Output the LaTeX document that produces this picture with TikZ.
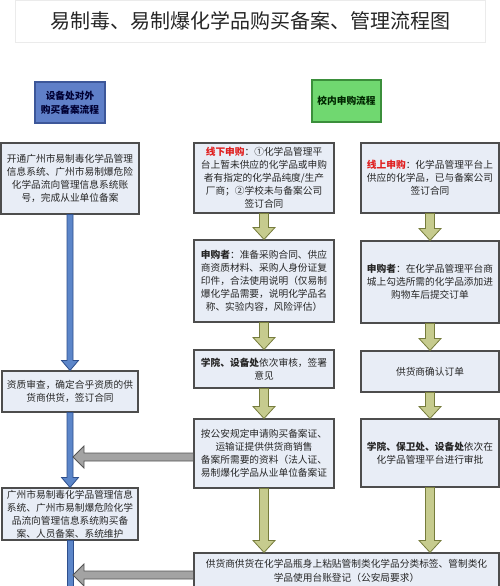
\documentclass[tikz,border=0pt]{standalone}
\usepackage{fontspec}
\newfontfamily\cjk{Noto Sans CJK SC}
\usetikzlibrary{calc}
\definecolor{boxfill}{HTML}{E8EDF6}
\definecolor{boxline}{HTML}{4D4D4D}
\definecolor{olivefill}{HTML}{C6CB8E}
\definecolor{oliveline}{HTML}{767C3C}
\definecolor{grayfill}{HTML}{A3A3A3}
\definecolor{grayline}{HTML}{555555}
\definecolor{bluefill}{HTML}{5C86C9}
\definecolor{blueline}{HTML}{2E4F8C}
\definecolor{hdrblue}{HTML}{5F7FC8}
\definecolor{hdrblueline}{HTML}{3D5799}
\definecolor{hdrgreen}{HTML}{70D870}
\definecolor{hdrgreenline}{HTML}{3B8F3B}
\definecolor{redtxt}{HTML}{E02020}
\tikzset{
  box/.style={draw=boxline, line width=1.1pt, fill=boxfill, align=center, inner sep=1pt,
    font=\cjk\fontsize{9.7}{13}\selectfont, text=black!85},
  hdr/.style={line width=1.1pt, align=center, inner sep=1pt,
    font=\cjk\bfseries\fontsize{9.7}{14}\selectfont},
  titlebox/.style={draw=black!8, fill=white, font=\cjk\fontsize{20}{24}\selectfont, text=black!85},
  olivearr/.style={draw=oliveline, fill=olivefill, line width=0.8pt},
  grayarr/.style={draw=grayline, fill=grayfill, line width=0.8pt},
  bluearr/.style={draw=blueline, fill=bluefill, line width=0.8pt},
}
\newcommand{\red}[1]{{\bfseries\color{redtxt}#1}}
\newcommand{\oarrow}[2]{%
  \path let \p1=(#1.south), \p2=(#2.north) in
    [olivearr] (\x1-4.5pt,\y1) -- (\x1-4.5pt,\y2+12pt) -- (\x1-11pt,\y2+12pt) -- (\x1,\y2)
    -- (\x1+11pt,\y2+12pt) -- (\x1+4.5pt,\y2+12pt) -- (\x1+4.5pt,\y1) -- cycle;}
\newcommand{\barrow}[2]{%
  \path let \p1=(#1.south), \p2=(#2.north) in
    [bluearr] (\x1-3pt,\y1) -- (\x1-3pt,\y2+10pt) -- (\x1-8.5pt,\y2+10pt) -- (\x1,\y2)
    -- (\x1+8.5pt,\y2+10pt) -- (\x1+3pt,\y2+10pt) -- (\x1+3pt,\y1) -- cycle;}
\newcommand{\garrow}[2]{%
  \path let \p1=(#1.west |- #2), \p2=(#2) in
    [grayarr] (\x1,\y1+4pt) -- (\x2+11pt,\y1+4pt) -- (\x2+11pt,\y1+11pt) -- (\x2,\y1)
    -- (\x2+11pt,\y1-11pt) -- (\x2+11pt,\y1-4pt) -- (\x1,\y1-4pt) -- cycle;}
\begin{document}
\begin{tikzpicture}[x=1pt,y=-1pt]
\clip (0,0) rectangle (500,586);
\fill[white] (0,0) rectangle (500,586);

\node[titlebox, minimum width=470pt, minimum height=42pt] (T) at (250,21) {易制毒、易制爆化学品购买备案、管理流程图};

\node[hdr, draw=hdrblueline, fill=hdrblue, text=blue!20!black, minimum width=70pt, minimum height=41pt] (HL) at (70,102.5) {设备处对外\\购买备案流程};
\node[hdr, draw=hdrgreenline, fill=hdrgreen, text=green!15!black, minimum width=69pt, minimum height=42pt] (HG) at (346.5,101) {校内申购流程};

% left column
\node[box, minimum width=138pt, minimum height=71pt] (L1) at (70,178.5)
 {开通广州市易制毒化学品管理\\信息系统、广州市易制爆危险\\化学品流向管理信息系统账\\号，完成从业单位备案};
\node[box, minimum width=136pt, minimum height=41pt] (L2) at (70,391.5)
 {资质审查，确定合乎资质的供\\货商供货，签订合同};
\node[box, minimum width=136pt, minimum height=52pt] (L3) at (70,514)
 {广州市易制毒化学品管理信息\\系统、广州市易制爆危险化学\\品流向管理信息系统购买备\\案、人员备案、系统维护};

% middle column
\node[box, minimum width=140pt, minimum height=70pt] (M1) at (264,178)
 {\red{线下申购}：①化学品管理平\\台上暂未供应的化学品或申购\\者有指定的化学品纯度/生产\\厂商；②学校未与备案公司\\签订合同};
\node[box, minimum width=140pt, minimum height=82pt] (M2) at (264,281)
 {{\bfseries 申购者}：准备采购合同、供应\\商资质材料、采购人身份证复\\印件，合法使用说明（仅易制\\爆化学品需要，说明化学品名\\称、实验内容，风险评估）};
\node[box, minimum width=140pt, minimum height=38pt] (M3) at (264,369)
 {{\bfseries 学院、设备处}依次审核，签署\\意见};
\node[box, minimum width=140pt, minimum height=69pt] (M4) at (264,453.5)
 {按公安规定申请购买备案证、\\运输证提供供货商销售\\备案所需要的资料（法人证、\\易制爆化学品从业单位备案证};

% right column
\node[box, minimum width=138pt, minimum height=70pt] (R1) at (430,178)
 {\red{线上申购}：化学品管理平台上\\供应的化学品，已与备案公司\\签订合同};
\node[box, minimum width=138pt, minimum height=82pt] (R2) at (430,282)
 {{\bfseries 申购者}：在化学品管理平台商\\城上勾选所需的化学品添加进\\购物车后提交订单};
\node[box, minimum width=138pt, minimum height=41pt] (R3) at (430,371.5)
 {供货商确认订单};
\node[box, minimum width=138pt, minimum height=68pt] (R4) at (430,453)
 {{\bfseries 学院、保卫处、设备处}依次在\\化学品管理平台进行审批};

% bottom
\node[box, minimum width=305pt, minimum height=36pt, font=\cjk\fontsize{9.7}{14}\selectfont] (B) at (346.5,571)
 {供货商供货在化学品瓶身上粘贴管制类化学品分类标签、管制类化\\学品使用台账登记（公安局要求）};

% arrows
\oarrow{M1}{M2}
\oarrow{M2}{M3}
\oarrow{M3}{M4}
\oarrow{M4}{B}
\oarrow{R1}{R2}
\oarrow{R2}{R3}
\oarrow{R3}{R4}
\oarrow{R4}{B}

\coordinate (Lend) at (70,600);
\barrow{L1}{L2}
\barrow{L2}{L3}
\path let \p1=(L3.south), \p2=(Lend) in
  [bluearr] (\x1-3pt,\y1) rectangle (\x1+3pt,\y2);

\coordinate (G1) at (73,457);
\coordinate (G2) at (73,575);
\garrow{M4}{G1}
\garrow{B}{G2}
\end{tikzpicture}
\end{document}
